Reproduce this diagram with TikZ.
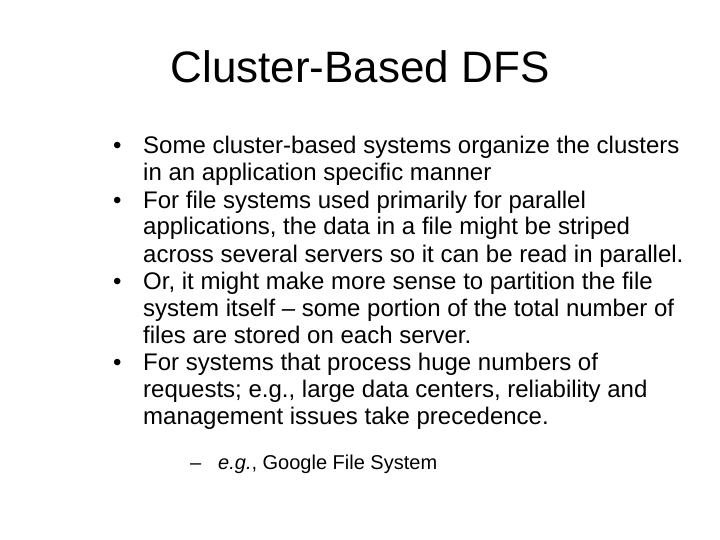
\documentclass[tikz,border=0pt]{standalone}
\usepackage{fontspec}
\setmainfont{Liberation Sans}
\begin{document}
\begin{tikzpicture}[x=1pt,y=1pt,
  ln/.style={anchor=base west,inner sep=0pt,font=\fontsize{24}{26}\selectfont},
  sub/.style={anchor=base west,inner sep=0pt,font=\fontsize{20}{22}\selectfont}]
\useasboundingbox[fill=white] (0,0) rectangle (720,-540);
\node[anchor=base,inner sep=0pt,font=\fontsize{44}{48}\selectfont] (title) at (360,-83) {Cluster-Based DFS};
\node[ln] (b1) at (113,-154) {•};
\node[ln] (l1) at (143,-154) {Some cluster-based systems organize the clusters};
\node[ln] (l2) at (143,-181) {in an application specific manner};
\node[ln] (b2) at (113,-208) {•};
\node[ln] (l3) at (143,-208) {For file systems used primarily for parallel};
\node[ln] (l4) at (143,-235) {applications, the data in a file might be striped};
\node[ln] (l5) at (143,-262) {across several servers so it can be read in parallel.};
\node[ln] (b3) at (113,-289) {•};
\node[ln] (l6) at (143,-289) {Or, it might make more sense to partition the file};
\node[ln] (l7) at (143,-316) {system itself – some portion of the total number of};
\node[ln] (l8) at (143,-343) {files are stored on each server.};
\node[ln] (b4) at (113,-370) {•};
\node[ln] (l9) at (143,-370) {For systems that process huge numbers of};
\node[ln] (l10) at (143,-397) {requests; e.g., large data centers, reliability and};
\node[ln] (l11) at (143,-424) {management issues take precedence.};
\node[sub] (d1) at (190,-469) {–};
\node[sub] (s1) at (218,-469) {\textit{e.g.}, Google File System};
\end{tikzpicture}
\end{document}
